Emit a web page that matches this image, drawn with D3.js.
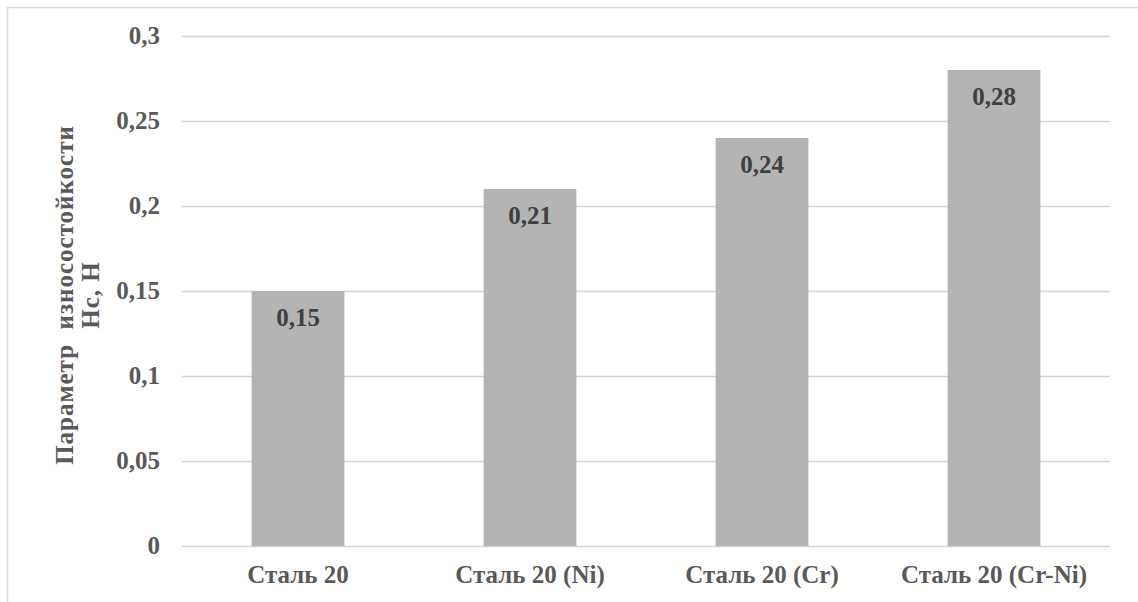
<!DOCTYPE html>
<html>
<head>
<meta charset="utf-8">
<script src="https://cdn.jsdelivr.net/npm/d3@7"></script>
<style>
  html, body { margin: 0; padding: 0; background: #fff; }
  svg { display: block; }
  svg text { font-family: "Liberation Serif", "DejaVu Serif", serif; }
</style>
</head>
<body>
<div id="chart"></div>
<script>
// Chart data
const categories = ["Сталь 20", "Сталь 20 (Ni)", "Сталь 20 (Cr)", "Сталь 20 (Cr-Ni)"];
const values = [0.15, 0.21, 0.24, 0.28];
const yTicks = [0, 0.05, 0.1, 0.15, 0.2, 0.25, 0.3];
const yTitle = ["Параметр  износостойкости", "Нс, Н"];

const width = 1138;
const height = 602;
const marginTop = 36;
const marginRight = 28;
const marginBottom = 56;
const marginLeft = 182;
const fontSize = 25;

const fmt = d => String(d).replace(".", ",");

const svg = d3.select("#chart")
  .append("svg")
  .attr("width", width)
  .attr("height", height);

// frame (the picture is cropped, only top and left edges show)
svg.append("path")
  .attr("d", `M7.5,${height} V7.5 H${width}`)
  .attr("fill", "none")
  .attr("stroke", "#d9d9d9")
  .attr("stroke-width", 1.5);

const x = d3.scaleBand()
  .domain(categories)
  .range([marginLeft, width - marginRight])
  .padding(0);

const y = d3.scaleLinear()
  .domain([0, 0.3])
  .range([height - marginBottom, marginTop]);

// gridlines
svg.append("g")
  .selectAll("line")
  .data(yTicks)
  .join("line")
  .attr("x1", marginLeft)
  .attr("x2", width - marginRight)
  .attr("y1", d => Math.round(y(d)) + 0.5)
  .attr("y2", d => Math.round(y(d)) + 0.5)
  .attr("stroke", "#d4d4d4")
  .attr("stroke-width", 1.3);

// y tick labels
svg.append("g")
  .selectAll("text")
  .data(yTicks)
  .join("text")
  .attr("x", 160)
  .attr("y", d => y(d))
  .attr("dy", "0.33em")
  .attr("text-anchor", "end")
  .attr("font-size", fontSize)
  .attr("font-weight", "bold")
  .attr("fill", "#595959")
  .text(fmt);

// bars
const barW = x.bandwidth() * 0.4;
svg.append("g")
  .selectAll("rect")
  .data(values)
  .join("rect")
  .attr("x", (d, i) => x(categories[i]) + (x.bandwidth() - barW) / 2)
  .attr("y", d => y(d))
  .attr("width", barW)
  .attr("height", d => y(0) - y(d))
  .attr("fill", "#b4b4b4");

// value labels
svg.append("g")
  .selectAll("text")
  .data(values)
  .join("text")
  .attr("x", (d, i) => x(categories[i]) + x.bandwidth() / 2)
  .attr("y", d => y(d) + 35)
  .attr("text-anchor", "middle")
  .attr("font-size", fontSize)
  .attr("font-weight", "bold")
  .attr("fill", "#404040")
  .text(fmt);

// x category labels
svg.append("g")
  .selectAll("text")
  .data(categories)
  .join("text")
  .attr("x", d => x(d) + x.bandwidth() / 2)
  .attr("y", 583)
  .attr("text-anchor", "middle")
  .attr("font-size", fontSize)
  .attr("font-weight", "bold")
  .attr("fill", "#595959")
  .text(d => d);

// y axis title
const yt = svg.append("text")
  .attr("transform", `translate(73, 295) rotate(-90)`)
  .attr("text-anchor", "middle")
  .attr("font-size", fontSize)
  .attr("font-weight", "bold")
  .attr("letter-spacing", 1)
  .attr("fill", "#595959")
  .style("white-space", "pre");

yt.selectAll("tspan")
  .data(yTitle)
  .join("tspan")
  .attr("x", 0)
  .attr("dy", (d, i) => i === 0 ? 0 : 26)
  .text(d => d);
</script>
</body>
</html>
